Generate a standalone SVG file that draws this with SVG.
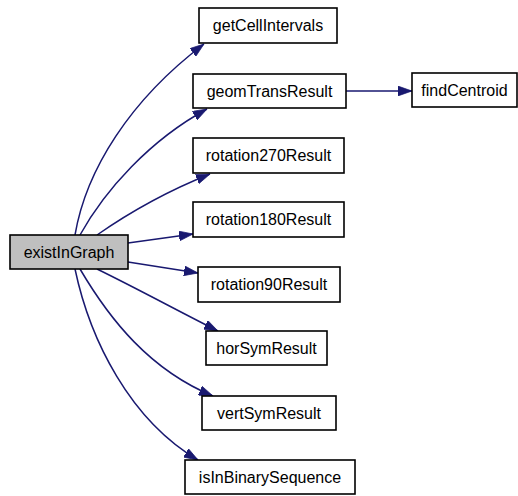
<svg xmlns="http://www.w3.org/2000/svg" width="518" height="496" viewBox="0 0 518 496">
<style>
.n rect{fill:#fff;stroke:#000;stroke-width:1.6}
.n text{font-family:"Liberation Sans",Arial,sans-serif;font-size:16px;fill:#000;text-anchor:middle}
#existInGraph rect{fill:#bfbfbf}
.e path{fill:none;stroke:#191970;stroke-width:1.5;marker-end:url(#ah)}
</style>
<defs>
<marker id="ah" viewBox="0 0 10 7" markerWidth="14" markerHeight="10" markerUnits="userSpaceOnUse" refX="10" refY="3.5" orient="auto">
<path d="M0,0 L10,3.5 L0,7 z" fill="#191970" stroke="#191970" stroke-width="0.5"/>
</marker>
</defs>
<g id="edges" class="e">
<path d="M75,235 C86,170 130,100 204,44"/>
<path d="M80,235 C105,190 150,140 207,109"/>
<path d="M97,235 C130,212 165,192 210,174"/>
<path d="M128,243 L193,234"/>
<path d="M128,262 L198,273"/>
<path d="M97,269 C140,290 180,312 218,331"/>
<path d="M80,269 C110,320 150,370 213,396"/>
<path d="M75,269 C90,340 130,420 198,460"/>
<path d="M346,91 L412,91"/>
</g>
<g id="existInGraph" class="n"><rect x="10" y="235" width="118" height="34"/><text x="69" y="258">existInGraph</text></g>
<g id="getCellIntervals" class="n"><rect x="199" y="8" width="138" height="35"/><text x="268" y="31">getCellIntervals</text></g>
<g id="geomTransResult" class="n"><rect x="193" y="74" width="153" height="34"/><text x="269.5" y="97">geomTransResult</text></g>
<g id="findCentroid" class="n"><rect x="412" y="73" width="105" height="34"/><text x="464.5" y="96">findCentroid</text></g>
<g id="rotation270Result" class="n"><rect x="193" y="138" width="151" height="35"/><text x="268.5" y="161">rotation270Result</text></g>
<g id="rotation180Result" class="n"><rect x="193" y="202" width="151" height="35"/><text x="268.5" y="225">rotation180Result</text></g>
<g id="rotation90Result" class="n"><rect x="198" y="267" width="142" height="35"/><text x="269" y="290">rotation90Result</text></g>
<g id="horSymResult" class="n"><rect x="206" y="331" width="121" height="34"/><text x="266.5" y="354">horSymResult</text></g>
<g id="vertSymResult" class="n"><rect x="202" y="396" width="134" height="34"/><text x="269" y="419">vertSymResult</text></g>
<g id="isInBinarySequence" class="n"><rect x="185" y="460" width="170" height="34"/><text x="270" y="483">isInBinarySequence</text></g>
</svg>
